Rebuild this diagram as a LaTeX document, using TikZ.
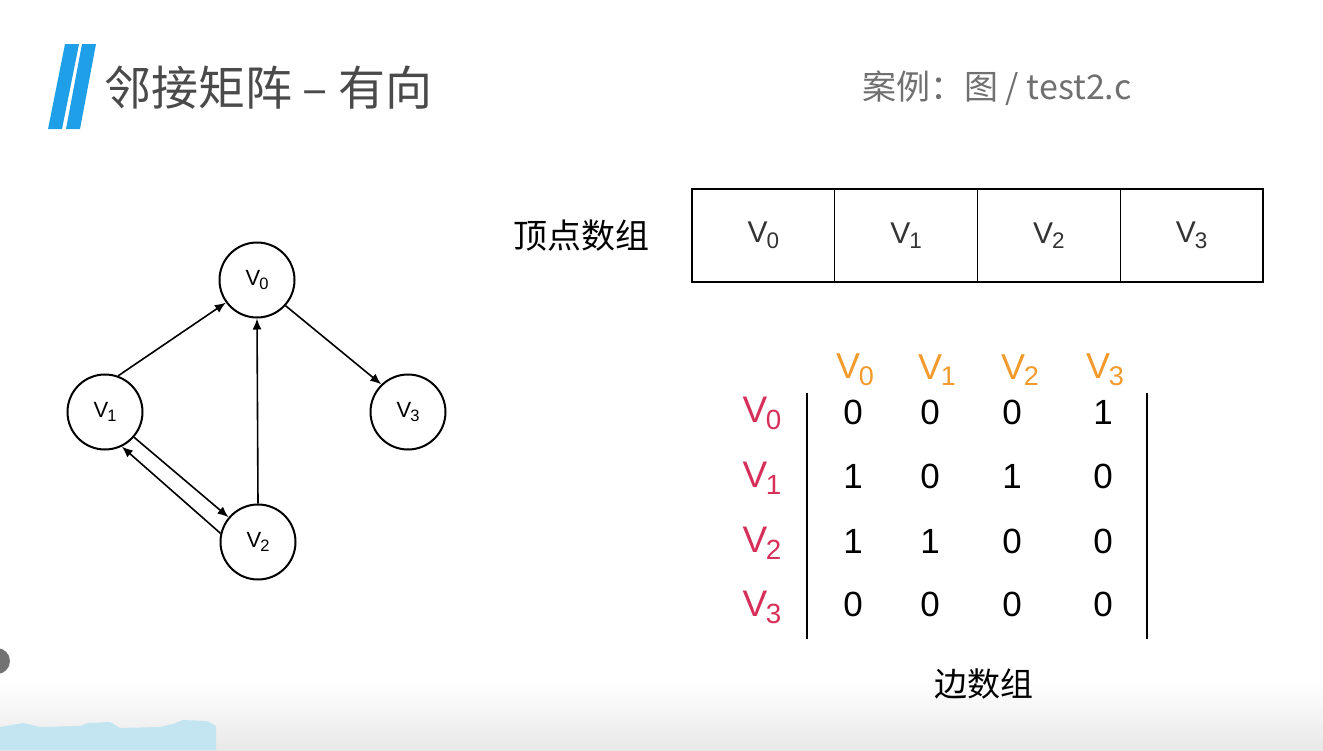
\documentclass[tikz,border=0pt]{standalone}
\usepackage{fontspec}
\setmainfont{Liberation Sans}
\newfontfamily\cjk{Noto Sans CJK SC}
\usetikzlibrary{arrows.meta}
\usetikzlibrary{positioning}

\definecolor{titleblue}{HTML}{1E9FE8}
\definecolor{titlegray}{HTML}{4A4A4A}
\definecolor{notegray}{HTML}{707070}
\definecolor{headorange}{HTML}{F39A2C}
\definecolor{rowred}{HTML}{D62F59}
\definecolor{wavecyan}{HTML}{C3E5F1}

\newcommand{\vname}[1]{V\kern-0.04em\raisebox{-0.35ex}{\scalebox{0.75}{#1}}}

\tikzset{
	vertex/.style={draw,circle,line width=1pt,minimum size=37.5pt,inner sep=0pt,font=\fontsize{11}{13}\selectfont},
	edge/.style={line width=0.8pt,-{Latex[length=5.5pt,width=4.5pt]}},
	cell/.style={draw,line width=0.7pt,outer sep=0pt,minimum width=71.375pt,minimum height=46.5pt,inner sep=0pt,text=black!80,font=\fontsize{15}{18}\selectfont},
	colhead/.style={text=headorange,inner sep=0pt,font=\fontsize{18}{20}\selectfont},
	rowhead/.style={text=rowred,inner sep=0pt,font=\fontsize{18.5}{20}\selectfont},
	entry/.style={inner sep=0pt,font=\fontsize{17.5}{20}\selectfont},
	bar/.style={line width=1pt}
}

\begin{document}
\begin{tikzpicture}[x=0.5pt,y=-0.5pt]
	\useasboundingbox (0,0) rectangle (1323,750);
	% Background %
	\shade [top color=white,bottom color=black!9] (0,682) rectangle (1323,750);
	\fill [wavecyan] (0,727) -- (23,723) -- (40,727) -- (80,726) -- (88,723) -- (110,722) -- (120,728) -- (160,727) -- (173,724) -- (183,720) -- (207,721) -- (216,726) -- (216,750) -- (0,750) -- cycle;
	\fill [black!55] (-3,661) circle (13);
	% Title %
	\fill [titleblue] (48,129) -- (62,129) -- (79,44) -- (65,44) -- cycle;
	\fill [titleblue] (66,129) -- (80,129) -- (96,44) -- (82,44) -- cycle;
	\node [anchor=west,inner sep=0pt,text=titlegray,font=\cjk\fontsize{23.5}{28}\selectfont] (title) at (104,88) {邻接矩阵 – 有向};
	\node [anchor=west,inner sep=0pt,text=notegray,font=\cjk\fontsize{17}{20}\selectfont] (note) at (862,88) {案例：图 / test2.c};
	% Graph %
	\node [vertex] (v0) at (257,280) {\vname{0}};
	\node [vertex] (v1) at (105,412) {\vname{1}};
	\node [vertex] (v2) at (258,542) {\vname{2}};
	\node [vertex] (v3) at (408,412) {\vname{3}};
	\draw [edge] (v1.70) -- (v0.-144);
	\draw [edge] (v2.north) -- (v0.south);
	\draw [edge] (v0.-42) -- (v3.134);
	\draw [edge] (v1.-41) -- (v2.140);
	\draw [edge] (v2.167) -- (v1.-64);
	% Vertex Array %
	\foreach \i in {0,...,3} \node [cell] (c\i) at ({763.375+142.75*\i},235.5) {\vname{\i}};
	\node [left=21pt of c0,inner sep=0pt,font=\cjk\fontsize{17}{20}\selectfont] (arrlabel) {顶点数组};
	% Edge Matrix %
	\foreach \j/\x in {0/855,1/937,2/1020,3/1105} \node [colhead] (h\j) at (\x,370) {\vname{\j}};
	\foreach \i/\y in {0/413,1/478,2/543,3/607} \node [rowhead] (r\i) at (762,\y) {\vname{\i}};
	\foreach \i/\y/\a/\b/\c/\d in {0/412/0/0/0/1,1/476/1/0/1/0,2/541/1/1/0/0,3/604/0/0/0/0} {
		\node [entry] (m\i0) at (853,\y) {\a};
		\node [entry] (m\i1) at (930,\y) {\b};
		\node [entry] (m\i2) at (1012,\y) {\c};
		\node [entry] (m\i3) at (1103,\y) {\d};
	}
	\draw [bar] (807,393) -- (807,639);
	\draw [bar] (1147,393) -- (1147,639);
	\node [inner sep=0pt,font=\cjk\fontsize{16.5}{20}\selectfont] (matlabel) at (984,684) {边数组};
\end{tikzpicture}
\end{document}
